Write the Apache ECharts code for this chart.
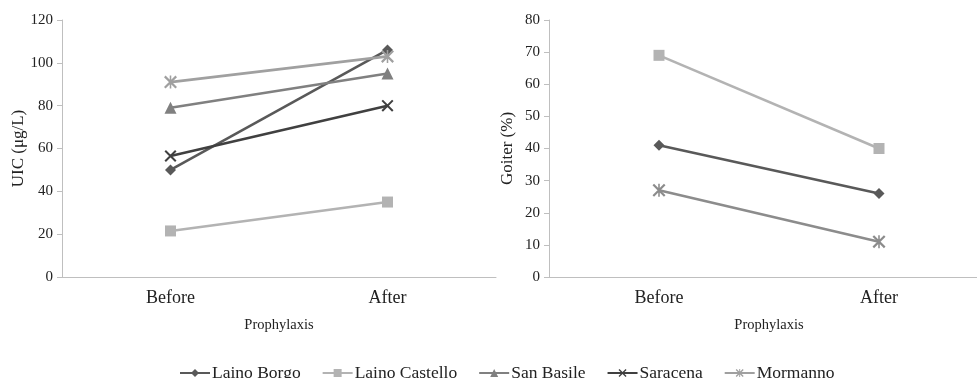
<!DOCTYPE html>
<html>
<head>
<meta charset="utf-8">
<script src="https://cdn.jsdelivr.net/npm/echarts@6/dist/echarts.min.js"></script>
<style>html,body{margin:0;padding:0;background:#fff;}#c{width:977px;height:378px;}</style>
</head>
<body>
<div id="c"></div>
<script>
var categories = ['Before', 'After'];
var uicLainoBorgo = [50, 106];
var uicLainoCastello = [21.5, 35];
var uicSanBasile = [79, 95];
var uicSaracena = [56.5, 80];
var uicMormanno = [91, 103];
var goiterLainoCastello = [69, 40];
var goiterLainoBorgo = [41, 26];
var goiterMormanno = [27, 11];
var uicTicks = [0, 20, 40, 60, 80, 100, 120];
var goiterTicks = [0, 10, 20, 30, 40, 50, 60, 70, 80];

var FONT = '"Liberation Serif", "Times New Roman", serif';
var xSym = 'path://M0,1.2 L1.2,0 L10,8.8 L8.8,10 Z M8.8,0 L10,1.2 L1.2,10 L0,8.8 Z';
var astSym = 'path://M0,1.2 L1.2,0 L10,8.8 L8.8,10 Z M8.8,0 L10,1.2 L1.2,10 L0,8.8 Z M4.4,0 L5.6,0 L5.6,10 L4.4,10 Z';

var style = {
  'Laino Borgo': {color: '#595959', symbol: 'diamond', size: 11},
  'Laino Castello': {color: '#b3b3b3', symbol: 'rect', size: 11},
  'San Basile': {color: '#808080', symbol: 'triangle', size: 12},
  'Saracena': {color: '#404040', symbol: xSym, size: 12},
  'Mormanno': {color: '#a0a0a0', symbol: astSym, size: 13}
};

function mk(name, data, idx, color) {
  var s = style[name];
  var c = color || s.color;
  return {
    name: name, type: 'line', data: data,
    xAxisIndex: idx, yAxisIndex: idx,
    symbol: s.symbol, symbolSize: s.size, showSymbol: true,
    lineStyle: {color: c, width: 2.6},
    itemStyle: {color: c, borderWidth: 0},
    animation: false
  };
}

function yAxis(ticks, name, gridIndex) {
  return {
    type: 'value', gridIndex: gridIndex,
    min: ticks[0], max: ticks[ticks.length - 1], interval: ticks[1] - ticks[0],
    name: name, nameLocation: 'middle', nameGap: 33,
    nameTextStyle: {fontFamily: FONT, fontSize: 17, color: '#222'},
    axisLine: {show: true, lineStyle: {color: '#bfbfbf', width: 1}},
    axisTick: {show: true, length: 5, lineStyle: {color: '#bfbfbf'}},
    axisLabel: {fontFamily: FONT, fontSize: 15, color: '#222', margin: 9},
    splitLine: {show: false}
  };
}
function xAxis(gridIndex) {
  return {
    type: 'category', gridIndex: gridIndex, data: categories, boundaryGap: true,
    name: 'Prophylaxis', nameLocation: 'middle', nameGap: 41,
    nameTextStyle: {fontFamily: FONT, fontSize: 14.5, color: '#222'},
    axisLine: {show: true, lineStyle: {color: '#bfbfbf', width: 1}},
    axisTick: {show: false},
    axisLabel: {fontFamily: FONT, fontSize: 18, color: '#222', margin: 12},
    splitLine: {show: false}
  };
}

var chart = echarts.init(document.getElementById('c'), null, {renderer: 'canvas'});
chart.setOption({
  backgroundColor: '#fff',
  animation: false,
  grid: [
    {left: 62, top: 20, width: 434, height: 257, outerBoundsMode: 'none', containLabel: false},
    {left: 549, top: 20, width: 440, height: 257, outerBoundsMode: 'none', containLabel: false}
  ],
  xAxis: [xAxis(0), xAxis(1)],
  yAxis: [yAxis(uicTicks, 'UIC (μg/L)', 0), yAxis(goiterTicks, 'Goiter (%)', 1)],
  legend: {
    data: ['Laino Borgo', 'Laino Castello', 'San Basile', 'Saracena', 'Mormanno'],
    left: 174, top: 359, itemWidth: 30, itemHeight: 10, itemGap: 21,
    textStyle: {fontFamily: FONT, fontSize: 17.5, color: '#222', padding: [0, 0, 0, -3]}
  },
  series: [
    mk('Laino Borgo', uicLainoBorgo, 0),
    mk('Laino Castello', uicLainoCastello, 0),
    mk('San Basile', uicSanBasile, 0),
    mk('Saracena', uicSaracena, 0),
    mk('Mormanno', uicMormanno, 0),
    mk('Laino Castello', goiterLainoCastello, 1),
    mk('Laino Borgo', goiterLainoBorgo, 1),
    mk('Mormanno', goiterMormanno, 1, '#8c8c8c')
  ]
});
</script>
</body>
</html>
